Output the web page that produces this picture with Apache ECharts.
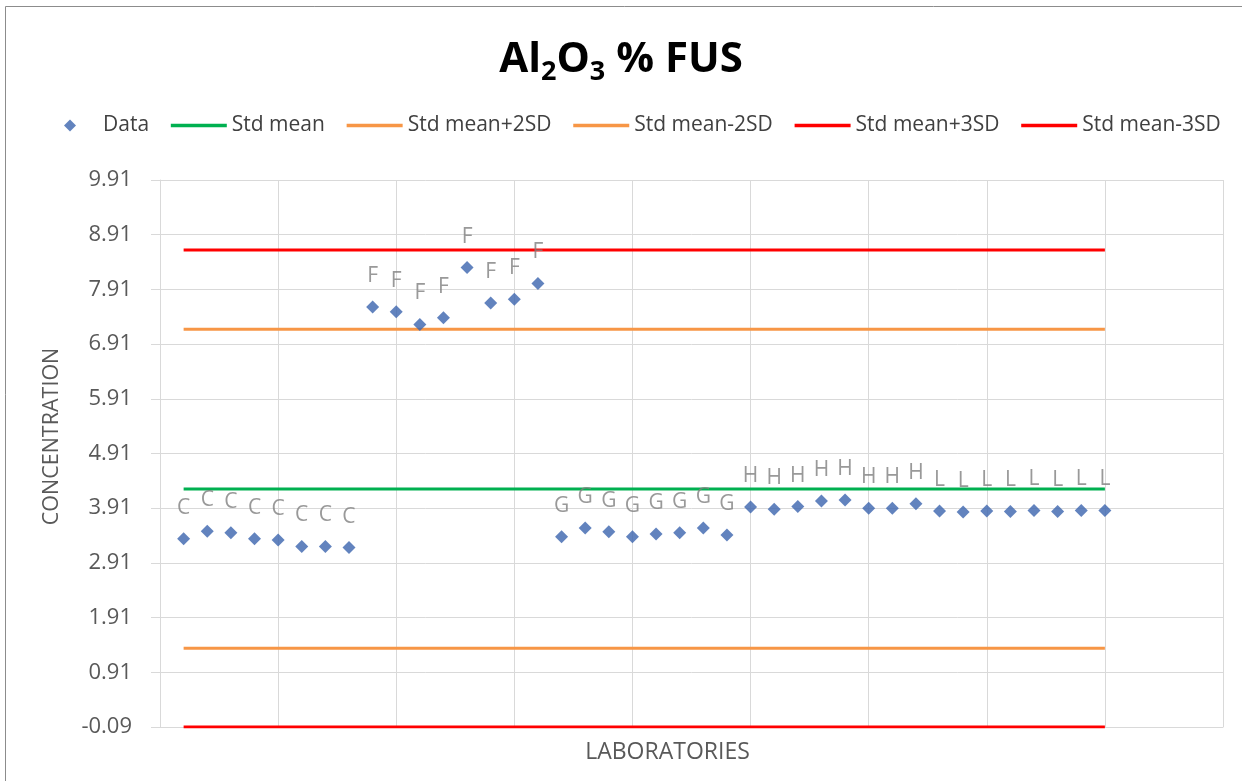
<!DOCTYPE html>
<html>
<head>
<meta charset="utf-8">
<script src="https://cdn.jsdelivr.net/npm/echarts@6/dist/echarts.min.js"></script>
<style>
html,body{margin:0;padding:0;background:#fff;}
#chart{width:1242px;height:781px;}
</style>
</head>
<body>
<div id="chart"></div>
<script>
// ---- data ----
const labIndex = [1,2,3,4,5,6,7,8,9,10,11,12,13,14,15,16,17,18,19,20,21,22,23,24,25,26,27,28,29,30,31,32,33,34,35,36,37,38,39,40];
const labGroup = ['C','C','C','C','C','C','C','C','F','F','F','F','F','F','F','F','G','G','G','G','G','G','G','G','H','H','H','H','H','H','H','H','L','L','L','L','L','L','L','L'];
const concentration = [3.35,3.49,3.46,3.35,3.33,3.21,3.21,3.19,
                       7.59,7.50,7.27,7.39,8.31,7.66,7.73,8.02,
                       3.39,3.55,3.48,3.39,3.44,3.46,3.55,3.42,
                       3.93,3.89,3.94,4.04,4.06,3.91,3.91,3.99,
                       3.86,3.84,3.86,3.85,3.87,3.85,3.87,3.87];
const refNames  = ['Std mean','Std mean+2SD','Std mean-2SD','Std mean+3SD','Std mean-3SD'];
const refValues = [4.26, 7.18, 1.35, 8.63, -0.09];
const refColors = ['#00b050','#f79646','#f79646','#ff0000','#ff0000'];
const refXRange = [1, 40];
const yTickLabels = ['-0.09','0.91','1.91','2.91','3.91','4.91','5.91','6.91','7.91','8.91','9.91'];
const yAxisBase = -0.09;   // first tick of the value axis

// ---- chart ----
const FONT = '"Open Sans", sans-serif';
const shift = v => +(v - yAxisBase).toFixed(4);
const chart = echarts.init(document.getElementById('chart'), null, {renderer: 'canvas'});

const series = [{
  name: 'Data',
  type: 'scatter',
  symbol: 'diamond',
  symbolSize: 13,
  z: 3,
  itemStyle: {color: '#3b64ae'},
  label: {
    show: true,
    position: 'inside',
    offset: [0, -31],
    formatter: p => labGroup[p.dataIndex],
    color: '#808080',
    fontSize: 21,
    fontFamily: FONT
  },
  data: labIndex.map((x, i) => [x, shift(concentration[i])])
}];
refNames.forEach((n, i) => {
  series.push({
    name: n,
    type: 'line',
    symbol: 'none',
    z: 2,
    lineStyle: {color: refColors[i], width: 3},
    itemStyle: {color: refColors[i]},
    data: refXRange.map(x => [x, shift(refValues[i])])
  });
});

chart.setOption({
  animation: false,
  backgroundColor: '#fff',
  title: {
    text: '{a|Al}{s|2}{a|O}{s|3}{a| % FUS}',
    left: 'center',
    top: 26,
    textStyle: {
      rich: {
        a: {fontSize: 42, fontWeight: 'bold', fontFamily: FONT, color: '#000', lineHeight: 50, verticalAlign: 'bottom'},
        s: {fontSize: 27, fontWeight: 'bold', fontFamily: FONT, color: '#000', lineHeight: 50, verticalAlign: 'bottom', padding: [0,0,-5,0]}
      }
    }
  },
  legend: {
    top: 110,
    left: 37,
    itemWidth: 56,
    itemHeight: 12,
    itemGap: 20,
    lineStyle: {width: 3.5},
    textStyle: {fontSize: 21, fontFamily: FONT, color: '#404040'},
    data: [{name: 'Data', icon: 'path://M0,6L0,6M56,6L56,6M22,6L28,0L34,6L28,12Z'}]
      .concat(refNames.map(n => ({name: n, itemStyle: {opacity: 0}})))
  },
  grid: {left: 160, right: 19, top: 180, bottom: 54, containLabel: false},
  xAxis: {
    type: 'value',
    min: 0, max: 45, interval: 5,
    name: 'LABORATORIES',
    nameLocation: 'middle',
    nameGap: 12,
    nameTextStyle: {fontSize: 23, fontFamily: FONT, color: '#595959', padding: [2, 48, 0, 0]},
    axisLine: {show: true, lineStyle: {color: '#d9d9d9', width: 1}},
    axisTick: {show: false},
    axisLabel: {show: false},
    splitLine: {show: true, lineStyle: {color: '#d9d9d9', width: 1}}
  },
  yAxis: {
    type: 'value',
    min: 0, max: 10, interval: 1,
    name: 'CONCENTRATION',
    nameLocation: 'middle',
    nameRotate: 90,
    nameGap: 97,
    nameTextStyle: {fontSize: 21.5, fontFamily: FONT, color: '#595959', padding: [0, 0, 0, 34]},
    axisLine: {show: true, lineStyle: {color: '#d9d9d9', width: 1}},
    axisTick: {show: true, length: 9, lineStyle: {color: '#d9d9d9'}},
    axisLabel: {
      fontSize: 22, fontFamily: FONT, color: '#595959', margin: 28,
      formatter: v => yTickLabels[Math.round(v)]
    },
    splitLine: {show: true, lineStyle: {color: '#d9d9d9', width: 1}}
  },
  graphic: [{
    type: 'rect',
    shape: {x: 5.5, y: 6.5, width: 1300, height: 900},
    style: {fill: null, stroke: '#8c8c8c', lineWidth: 1},
    silent: true, z: 100
  }],
  series: series
});
</script>
</body>
</html>
